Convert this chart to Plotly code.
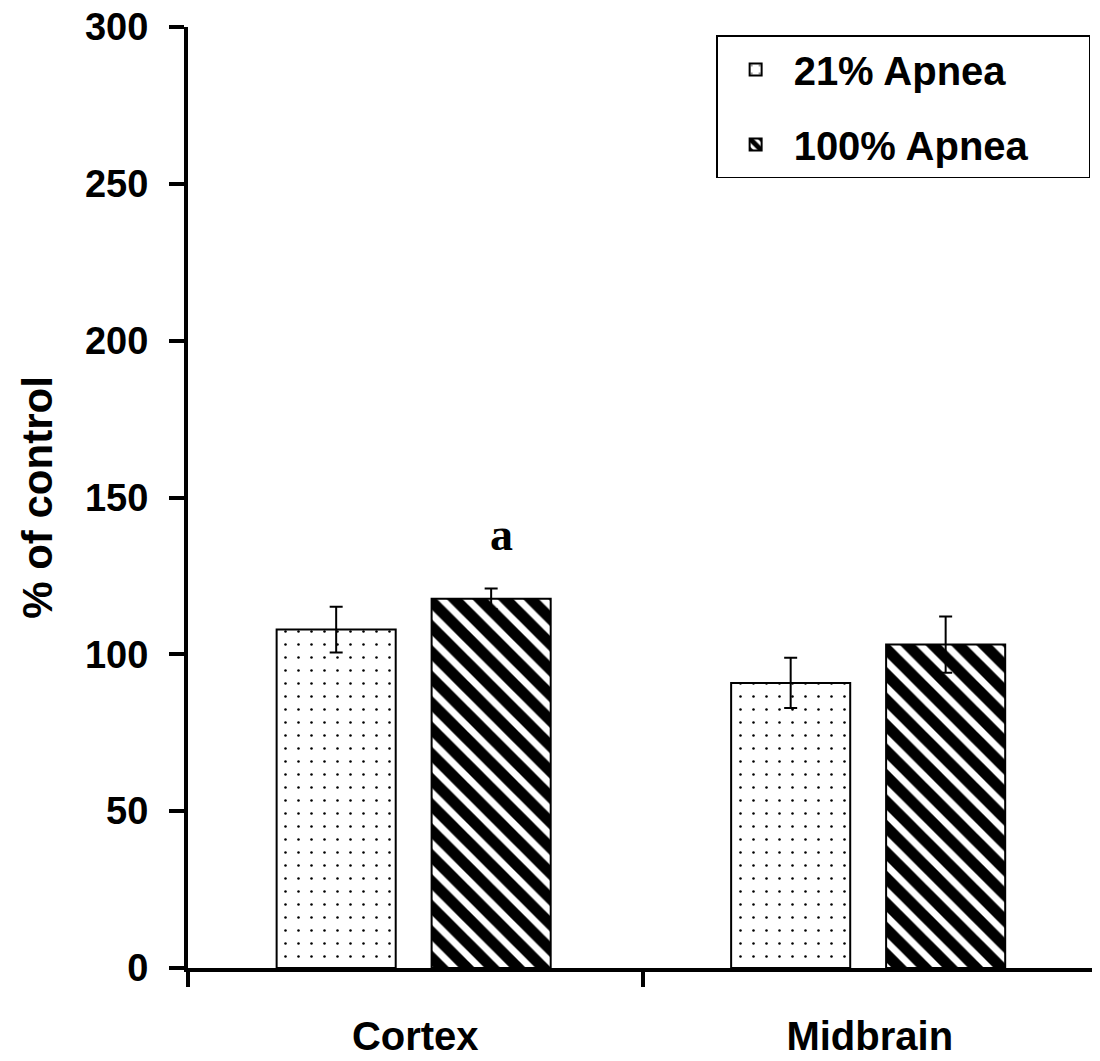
import plotly.graph_objects as go

categories = ["Cortex", "Midbrain"]
series_names = ["21% Apnea", "100% Apnea"]
values_21 = [107.9, 90.9]
errors_21 = [7.3, 8.0]
values_100 = [117.7, 103.1]
errors_100 = [3.3, 9.0]
y_ticks = [0, 50, 100, 150, 200, 250, 300]
sig_label = "a"

BAR_W = 0.262
OFF_21 = -0.305
OFF_100 = 0.036
PAD = "&nbsp;" * 5

fig = go.Figure()
fig.add_trace(go.Bar(
    name="<b>%s</b>%s" % (series_names[0], PAD), x=categories, y=values_21,
    width=BAR_W, offset=OFF_21, legendgroup="g1",
    marker=dict(color="white", line=dict(color="black", width=2),
                pattern=dict(shape=".", size=13, solidity=0.03,
                             fgcolor="black", bgcolor="white", fgopacity=1)),
    error_y=dict(type="data", array=errors_21, visible=True,
                 color="black", thickness=2, width=6.5),
))
fig.add_trace(go.Bar(
    name="<b>%s</b>%s" % (series_names[1], PAD), x=categories, y=values_100,
    width=BAR_W, offset=OFF_100, legendgroup="g2",
    marker=dict(color="white", line=dict(color="black", width=2),
                pattern=dict(shape="\\", size=18, solidity=0.62,
                             fgcolor="black", bgcolor="white", fgopacity=1)),
    error_y=dict(type="data", array=errors_100, visible=True,
                 color="black", thickness=2, width=6.5),
))

fig.add_annotation(
    x=0 + OFF_100 + BAR_W / 2, y=values_100[0] + errors_100[0],
    yshift=26, xshift=10, text="<b>%s</b>" % sig_label, showarrow=False,
    yanchor="bottom",
    font=dict(family="Liberation Serif", size=46, color="black"),
)

fig.update_layout(
    width=1100, height=1061,
    margin=dict(l=180, r=11, t=19, b=101),
    paper_bgcolor="white", plot_bgcolor="white",
    barmode="overlay",
    showlegend=True,
    legend=dict(
        x=0.581, y=0.991, xanchor="left", yanchor="top",
        bordercolor="black", borderwidth=1.5, bgcolor="white",
        font=dict(family="Liberation Sans", size=40, color="black"),
        tracegroupgap=20, itemwidth=66,
    ),
    font=dict(family="Liberation Sans", color="black"),
)

fig.update_xaxes(
    type="category", categoryorder="array", categoryarray=categories,
    ticktext=["<b>%s</b>" % c for c in categories], tickvals=categories,
    range=[-0.5, 1.5], automargin=False,
    showline=True, linecolor="black", linewidth=4,
    ticks="outside", ticklen=15, tickwidth=4, tickcolor="black",
    tickson="boundaries", showgrid=False, zeroline=False,
    tickfont=dict(family="Liberation Sans", size=40, color="black"),
    ticklabelstandoff=30, ticklabeloverflow="allow",
)
fig.update_yaxes(
    range=[0, 300], tickmode="array", tickvals=y_ticks,
    ticktext=["<b>%d</b>" % v for v in y_ticks], automargin=False,
    showline=True, linecolor="black", linewidth=4,
    ticks="outside", ticklen=15, tickwidth=4, tickcolor="black",
    showgrid=False, zeroline=False,
    tickfont=dict(family="Liberation Sans", size=38, color="black"),
    ticklabelstandoff=13, ticklabeloverflow="allow",
    title=dict(text="<b>% of control</b>", standoff=20,
               font=dict(family="Liberation Sans", size=42, color="black")),
)

fig.write_html("out.html")
